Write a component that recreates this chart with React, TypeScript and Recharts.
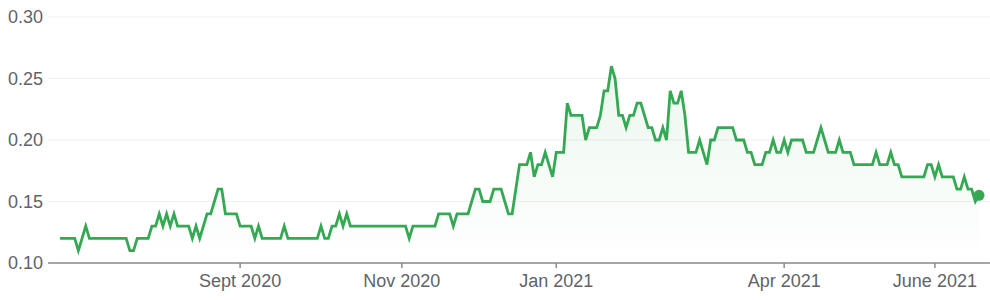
import { Area, AreaChart, CartesianGrid, XAxis, YAxis } from "recharts";

// daily closes, late June 2020 -> end of Dec 2020
const prices2020 = [
  0.12, 0.12, 0.12, 0.12, 0.12, 0.11, 0.12, 0.13, 0.12, 0.12,
  0.12, 0.12, 0.12, 0.12, 0.12, 0.12, 0.12, 0.12, 0.12, 0.11,
  0.11, 0.12, 0.12, 0.12, 0.12, 0.13, 0.13, 0.14, 0.13, 0.14,
  0.13, 0.14, 0.13, 0.13, 0.13, 0.13, 0.12, 0.13, 0.12, 0.13,
  0.14, 0.14, 0.15, 0.16, 0.16, 0.14, 0.14, 0.14, 0.14, 0.13,
  0.13, 0.13, 0.13, 0.12, 0.13, 0.12, 0.12, 0.12, 0.12, 0.12,
  0.12, 0.13, 0.12, 0.12, 0.12, 0.12, 0.12, 0.12, 0.12, 0.12,
  0.12, 0.13, 0.12, 0.12, 0.13, 0.13, 0.14, 0.13, 0.14, 0.13,
  0.13, 0.13, 0.13, 0.13, 0.13, 0.13, 0.13, 0.13, 0.13, 0.13,
  0.13, 0.13, 0.13, 0.13, 0.13, 0.12, 0.13, 0.13, 0.13, 0.13,
  0.13, 0.13, 0.13, 0.14, 0.14, 0.14, 0.14, 0.13, 0.14, 0.14,
  0.14, 0.14, 0.15, 0.16, 0.16, 0.15, 0.15, 0.15, 0.16, 0.16,
  0.16, 0.15, 0.14, 0.14, 0.16, 0.18, 0.18, 0.18, 0.19, 0.17,
  0.18, 0.18, 0.19, 0.18, 0.17,
];

// Jan 2021 -> late June 2021
const prices2021 = [
  0.19, 0.19, 0.19, 0.23, 0.22, 0.22, 0.22, 0.22, 0.2, 0.21,
  0.21, 0.21, 0.22, 0.24, 0.24, 0.26, 0.25, 0.22, 0.22, 0.21,
  0.22, 0.22, 0.23, 0.23, 0.22, 0.21, 0.21, 0.2, 0.2, 0.21,
  0.2, 0.24, 0.23, 0.23, 0.24, 0.22, 0.19, 0.19, 0.19, 0.2,
  0.19, 0.18, 0.2, 0.2, 0.21, 0.21, 0.21, 0.21, 0.21, 0.2,
  0.2, 0.2, 0.19, 0.19, 0.18, 0.18, 0.18, 0.19, 0.19, 0.2,
  0.19, 0.19, 0.2, 0.19, 0.2, 0.2, 0.2, 0.2, 0.19, 0.19,
  0.19, 0.2, 0.21, 0.2, 0.19, 0.19, 0.19, 0.2, 0.19, 0.19,
  0.19, 0.18, 0.18, 0.18, 0.18, 0.18, 0.18, 0.19, 0.18, 0.18,
  0.18, 0.19, 0.18, 0.18, 0.17, 0.17, 0.17, 0.17, 0.17, 0.17,
  0.17, 0.18, 0.18, 0.17, 0.18, 0.17, 0.17, 0.17, 0.17, 0.16,
  0.16, 0.17, 0.16, 0.16, 0.15, 0.155,
];

// trading-day index of the first session shown for each labelled month
const tickIndex = [49, 93, 135, 197, 238];
const tickLabels = ["Sept 2020", "Nov 2020", "Jan 2021", "Apr 2021", "June 2021"];

const yTicks = [0.1, 0.15, 0.2, 0.25, 0.3];

const prices = [...prices2020, ...prices2021];
const data = prices.map((price, i) => ({ i, price }));

const GREEN = "#34a853";
const FONT = "Arial, 'Liberation Sans', Helvetica, sans-serif";

const renderLastDot = (props: any) => {
  const { cx, cy, index } = props;
  if (index !== data.length - 1) return <g key={`dot-${index}`} />;
  return <circle key="dot-last" cx={cx} cy={cy} r={5.5} fill={GREEN} />;
};

export default function App() {
  return (
    <div style={{ position: "absolute", left: 0, top: 0, background: "#fff" }}>
      <AreaChart
        width={990}
        height={300}
        data={data}
        margin={{ top: 17, right: 0, bottom: 7, left: 0 }}
      >
        <defs>
          <linearGradient id="priceFill" x1="0" y1="0" x2="0" y2="1">
            <stop offset="0%" stopColor={GREEN} stopOpacity={0.16} />
            <stop offset="100%" stopColor={GREEN} stopOpacity={0} />
          </linearGradient>
        </defs>

        <CartesianGrid stroke="#efefef" vertical={false} />
        <XAxis
          dataKey="i"
          type="number"
          domain={[0, data.length - 1]}
          ticks={tickIndex}
          interval={0}
          padding={{ left: 12, right: 11 }}
          height={30}
          tickSize={5}
          tickMargin={6}
          axisLine={{ stroke: "#8a8a8a", strokeWidth: 1.5 }}
          tickLine={{ stroke: "#8a8a8a", strokeWidth: 1.5 }}
          tick={{ fill: "#5f6368", fontSize: 18, fontFamily: FONT }}
          tickFormatter={(v: number) => tickLabels[tickIndex.indexOf(v)] ?? ""}
        />
        <YAxis
          type="number"
          domain={[0.1, 0.3]}
          ticks={yTicks}
          interval={0}
          width={48}
          axisLine={false}
          tickLine={false}
          tickSize={0}
          tickMargin={5}
          tick={{ fill: "#5f6368", fontSize: 18, fontFamily: FONT }}
          tickFormatter={(v: number) => v.toFixed(2)}
        />
        <Area
          type="linear"
          dataKey="price"
          stroke={GREEN}
          strokeWidth={2.8}
          fill="url(#priceFill)"
          dot={renderLastDot}
          activeDot={false}
          isAnimationActive={false}
        />
      </AreaChart>
    </div>
  );
}
